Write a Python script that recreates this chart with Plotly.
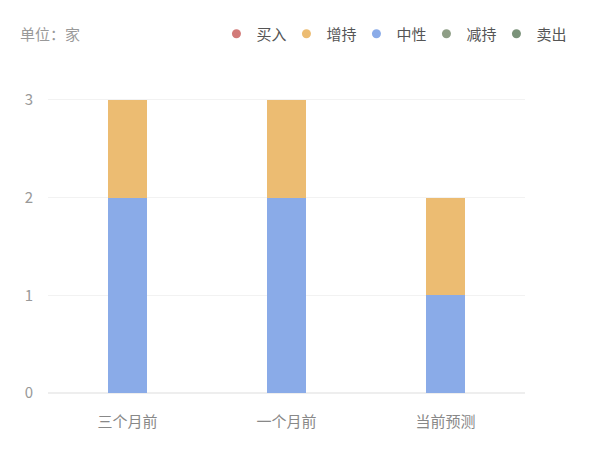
import plotly.graph_objects as go

# 评级分布数据
categories = ["三个月前", "一个月前", "当前预测"]
series_names = ["买入", "增持", "中性", "减持", "卖出"]
buy = [0, 0, 0]
overweight = [1, 1, 1]
neutral = [2, 2, 1]
underweight = [0, 0, 0]
sell = [0, 0, 0]
colors = ["#d27a78", "#ecbc72", "#8aabe8", "#8e9e86", "#7a9279"]

values = {"买入": buy, "增持": overweight, "中性": neutral, "减持": underweight, "卖出": sell}

fig = go.Figure()

# 堆叠顺序：中性在下，增持在上
for name in ["中性", "增持", "买入", "减持", "卖出"]:
    c = colors[series_names.index(name)]
    fig.add_trace(go.Bar(
        x=categories, y=values[name], name=name,
        marker=dict(color=c, line=dict(width=0)),
        width=0.24, showlegend=False, hoverinfo="skip",
    ))

# 图例用圆点
for name, c in zip(series_names, colors):
    fig.add_trace(go.Scatter(
        x=[None], y=[None], mode="markers", name=name,
        marker=dict(color=c, size=9, symbol="circle"),
    ))

fig.update_layout(
    barmode="stack",
    width=607, height=456,
    margin=dict(l=40, r=90, t=90, b=71, autoexpand=False),
    paper_bgcolor="white", plot_bgcolor="white",
    font=dict(family="Noto Sans CJK SC", size=14, color="#999999"),
    legend=dict(
        orientation="h", xref="container", yref="container",
        x=0.92, xanchor="right", y=0.943, yanchor="middle",
        font=dict(size=15, color="#555555"), itemwidth=30,
        entrywidth=25, entrywidthmode="pixels",
        traceorder="normal",
    ),
    annotations=[dict(
        text="单位：家", xref="paper", yref="paper", x=-0.063, y=1.217,
        xanchor="left", yanchor="middle", showarrow=False,
        font=dict(size=15, color="#999999"),
    )],
    xaxis=dict(showline=False, ticks="", automargin=False, ticklabelstandoff=18,
               tickfont=dict(size=15, color="#888888")),
    yaxis=dict(
        range=[0, 3.02], dtick=1, showgrid=True, gridcolor="#f2f2f2",
        zeroline=True, zerolinecolor="#eeeeee", ticks="", ticklabelstandoff=14,
        automargin=False, tickfont=dict(size=15, color="#999999"),
    ),
)

fig.write_html("out.html")
